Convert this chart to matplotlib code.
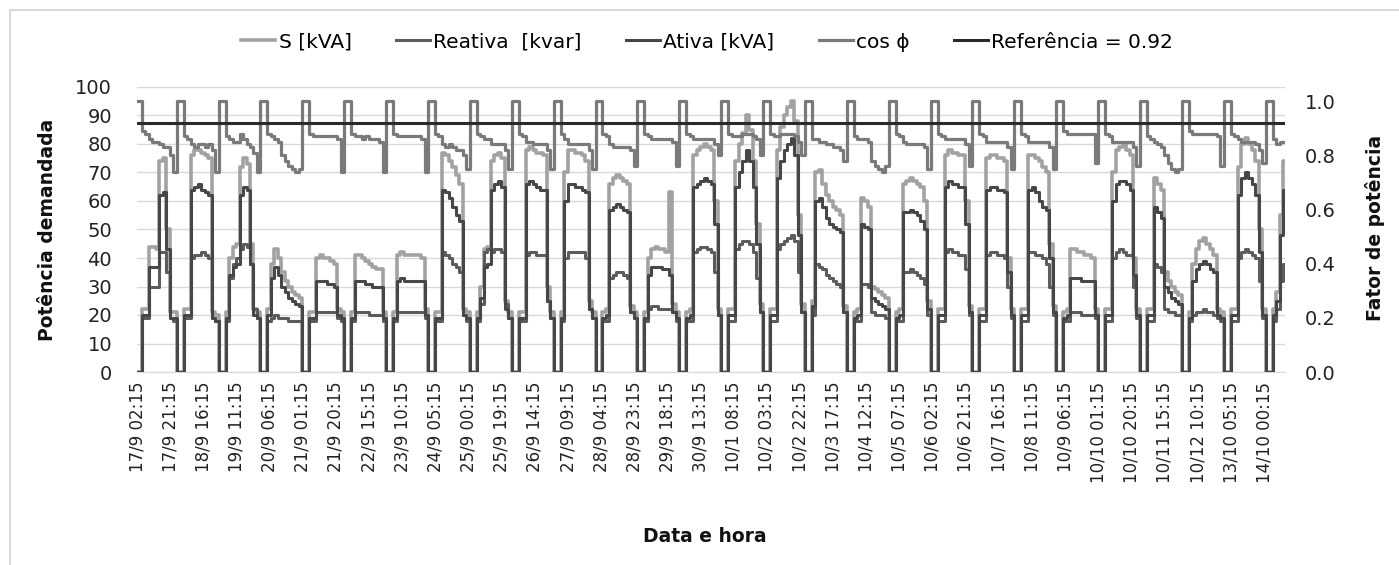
import numpy as np
import matplotlib
matplotlib.use("Agg")
import matplotlib.pyplot as plt
from matplotlib.patches import Rectangle

# ---------------- data (2-hour readings, starting 17/9 01:00) ----------------
tick_labels = ["17/9 02:15", "17/9 21:15", "18/9 16:15", "19/9 11:15", "20/9 06:15",
               "21/9 01:15", "21/9 20:15", "22/9 15:15", "23/9 10:15", "24/9 05:15",
               "25/9 00:15", "25/9 19:15", "26/9 14:15", "27/9 09:15", "28/9 04:15",
               "28/9 23:15", "29/9 18:15", "30/9 13:15", "10/1 08:15", "10/2 03:15",
               "10/2 22:15", "10/3 17:15", "10/4 12:15", "10/5 07:15", "10/6 02:15",
               "10/6 21:15", "10/7 16:15", "10/8 11:15", "10/9 06:15", "10/10 01:15",
               "10/10 20:15", "10/11 15:15", "10/12 10:15", "13/10 05:15", "14/10 00:15"]

S_kva = [
    0, 0, 22, 22, 44, 44, 43, 74, 75, 50, 21, 21,
    0, 0, 22, 22, 76, 78, 78, 77, 76, 75, 21, 20,
    0, 0, 21, 40, 44, 45, 72, 75, 73, 45, 22, 21,
    0, 0, 22, 38, 43, 40, 35, 32, 30, 28, 27, 26,
    0, 0, 21, 21, 40, 41, 40, 40, 39, 38, 22, 21,
    0, 0, 21, 41, 41, 40, 39, 38, 37, 36, 36, 21,
    0, 0, 21, 41, 42, 41, 41, 41, 41, 41, 40, 22,
    0, 0, 21, 21, 77, 76, 74, 72, 69, 66, 22, 21,
    0, 0, 21, 30, 43, 44, 74, 76, 77, 75, 25, 21,
    0, 0, 21, 21, 78, 79, 78, 77, 77, 76, 30, 21,
    0, 0, 21, 70, 78, 78, 77, 77, 76, 74, 25, 21,
    0, 0, 21, 22, 66, 68, 69, 68, 67, 66, 23, 21,
    0, 0, 21, 40, 43, 44, 43, 43, 42, 63, 24, 21,
    0, 0, 21, 22, 76, 78, 79, 80, 79, 78, 60, 22,
    0, 0, 22, 22, 74, 80, 84, 90, 85, 74, 52, 24,
    0, 0, 22, 22, 78, 86, 90, 93, 95, 88, 55, 24,
    0, 0, 25, 70, 71, 66, 62, 60, 58, 57, 55, 23,
    0, 0, 21, 22, 61, 60, 58, 30, 29, 28, 27, 26,
    0, 0, 21, 22, 66, 67, 68, 67, 66, 65, 60, 25,
    0, 0, 22, 22, 76, 78, 77, 77, 76, 76, 60, 23,
    0, 0, 22, 22, 75, 76, 76, 75, 75, 74, 40, 22,
    0, 0, 22, 22, 76, 76, 75, 74, 72, 70, 45, 23,
    0, 0, 21, 22, 43, 43, 42, 42, 41, 41, 40, 22,
    0, 0, 22, 22, 70, 78, 79, 80, 78, 76, 40, 22,
    0, 0, 22, 22, 68, 66, 64, 35, 32, 30, 28, 27,
    0, 0, 21, 38, 43, 46, 47, 45, 43, 41, 22, 21,
    0, 0, 22, 22, 72, 80, 82, 80, 78, 74, 50, 22,
    0, 0, 22, 28, 55, 74, 74]

Reativa_kvar = [
    0, 0, 19, 19, 30, 30, 30, 42, 42, 35, 19, 18,
    0, 0, 19, 19, 40, 41, 41, 42, 41, 40, 19, 18,
    0, 0, 18, 33, 38, 40, 43, 45, 44, 38, 22, 19,
    0, 0, 18, 19, 20, 19, 19, 19, 18, 18, 18, 18,
    0, 0, 18, 18, 21, 21, 21, 21, 21, 21, 19, 18,
    0, 0, 18, 21, 21, 21, 21, 20, 20, 20, 20, 18,
    0, 0, 18, 21, 21, 21, 21, 21, 21, 21, 21, 19,
    0, 0, 18, 18, 42, 41, 40, 38, 37, 35, 20, 18,
    0, 0, 18, 24, 42, 43, 42, 43, 43, 42, 24, 19,
    0, 0, 18, 18, 41, 42, 42, 41, 41, 41, 25, 19,
    0, 0, 18, 40, 42, 42, 42, 42, 42, 40, 22, 19,
    0, 0, 18, 18, 33, 34, 35, 35, 34, 33, 21, 19,
    0, 0, 18, 22, 23, 23, 22, 22, 22, 22, 21, 18,
    0, 0, 18, 18, 42, 43, 44, 44, 43, 42, 35, 20,
    0, 0, 18, 18, 43, 45, 46, 46, 45, 42, 33, 21,
    0, 0, 18, 18, 43, 45, 46, 47, 48, 46, 35, 21,
    0, 0, 20, 38, 37, 36, 34, 33, 32, 31, 30, 21,
    0, 0, 18, 18, 31, 31, 30, 21, 20, 20, 20, 19,
    0, 0, 18, 18, 35, 35, 36, 35, 34, 33, 31, 20,
    0, 0, 18, 18, 42, 43, 42, 42, 41, 41, 36, 20,
    0, 0, 18, 18, 41, 42, 42, 41, 41, 40, 30, 19,
    0, 0, 18, 18, 42, 42, 41, 41, 40, 38, 30, 20,
    0, 0, 18, 18, 21, 21, 21, 20, 20, 20, 20, 19,
    0, 0, 18, 18, 40, 42, 43, 42, 41, 41, 30, 19,
    0, 0, 18, 18, 38, 37, 35, 22, 21, 21, 20, 20,
    0, 0, 18, 20, 21, 21, 22, 21, 21, 20, 19, 18,
    0, 0, 18, 18, 40, 42, 43, 42, 41, 40, 32, 19,
    0, 0, 18, 22, 32, 38, 38]

Ativa_kw = [
    0, 0, 20, 20, 37, 37, 37, 62, 63, 43, 19, 19,
    0, 0, 20, 20, 64, 65, 66, 64, 63, 62, 19, 18,
    0, 0, 19, 34, 37, 38, 62, 65, 64, 38, 20, 19,
    0, 0, 20, 33, 37, 34, 30, 28, 26, 25, 24, 23,
    0, 0, 19, 19, 32, 32, 32, 31, 31, 30, 20, 19,
    0, 0, 19, 32, 32, 32, 31, 31, 30, 30, 30, 19,
    0, 0, 19, 32, 33, 32, 32, 32, 32, 32, 32, 20,
    0, 0, 19, 19, 64, 63, 61, 58, 55, 53, 20, 19,
    0, 0, 19, 26, 37, 38, 64, 66, 67, 65, 22, 19,
    0, 0, 19, 19, 66, 67, 66, 65, 64, 64, 25, 19,
    0, 0, 19, 60, 66, 66, 65, 65, 64, 63, 22, 19,
    0, 0, 19, 20, 57, 58, 59, 58, 57, 56, 21, 19,
    0, 0, 19, 34, 37, 37, 37, 36, 36, 34, 21, 19,
    0, 0, 19, 20, 65, 66, 67, 68, 67, 66, 52, 20,
    0, 0, 20, 20, 65, 70, 74, 78, 74, 65, 45, 21,
    0, 0, 20, 20, 68, 74, 78, 80, 82, 76, 48, 21,
    0, 0, 23, 60, 61, 58, 54, 52, 51, 50, 49, 21,
    0, 0, 19, 20, 52, 51, 50, 26, 25, 24, 23, 22,
    0, 0, 19, 20, 56, 56, 57, 56, 55, 53, 50, 22,
    0, 0, 20, 20, 65, 67, 66, 66, 65, 65, 52, 21,
    0, 0, 20, 20, 64, 65, 65, 64, 64, 63, 35, 20,
    0, 0, 20, 20, 64, 65, 63, 60, 58, 57, 40, 21,
    0, 0, 19, 20, 33, 33, 33, 32, 32, 32, 32, 20,
    0, 0, 20, 20, 60, 66, 67, 67, 66, 64, 34, 20,
    0, 0, 20, 20, 58, 56, 54, 30, 28, 26, 25, 24,
    0, 0, 19, 32, 36, 38, 39, 38, 36, 35, 20, 19,
    0, 0, 20, 20, 62, 68, 70, 68, 66, 62, 42, 20,
    0, 0, 20, 25, 48, 64, 64]

cos_phi = [
    1, 1, .89, .88, .86, .85, .85, .84, .83, .83, .80, .74,
    1, 1, .87, .86, .84, .83, .84, .84, .83, .84, .82, .74,
    1, 1, .87, .86, .85, .85, .88, .86, .84, .83, .81, .74,
    1, 1, .88, .87, .86, .85, .80, .78, .76, .75, .74, .75,
    1, 1, .88, .87, .87, .87, .87, .87, .87, .87, .86, .74,
    1, 1, .88, .87, .87, .86, .87, .86, .86, .86, .85, .74,
    1, 1, .88, .87, .87, .87, .87, .87, .87, .87, .86, .74,
    1, 1, .88, .87, .84, .83, .84, .83, .82, .82, .80, .75,
    1, 1, .88, .87, .86, .86, .84, .84, .84, .84, .82, .75,
    1, 1, .88, .87, .85, .85, .84, .84, .84, .84, .82, .75,
    1, 1, .88, .86, .84, .84, .84, .84, .84, .84, .82, .75,
    1, 1, .88, .87, .84, .83, .83, .83, .83, .83, .82, .76,
    1, 1, .88, .87, .86, .86, .86, .86, .86, .86, .85, .76,
    1, 1, .88, .87, .86, .86, .86, .86, .86, .86, .84, .80,
    1, 1, .88, .87, .87, .87, .88, .88, .88, .87, .86, .80,
    1, 1, .88, .87, .87, .88, .88, .88, .88, .87, .85, .80,
    1, 1, .86, .86, .85, .85, .84, .84, .83, .83, .82, .78,
    1, 1, .87, .86, .86, .86, .85, .78, .76, .75, .74, .76,
    1, 1, .88, .87, .85, .84, .84, .84, .84, .84, .83, .75,
    1, 1, .88, .87, .86, .86, .86, .86, .86, .86, .84, .76,
    1, 1, .88, .87, .85, .85, .85, .85, .85, .85, .83, .75,
    1, 1, .88, .87, .85, .85, .85, .85, .85, .85, .83, .75,
    1, 1, .89, .88, .88, .88, .88, .88, .88, .88, .88, .77,
    1, 1, .88, .87, .85, .85, .85, .85, .85, .85, .83, .76,
    1, 1, .87, .86, .85, .84, .83, .80, .77, .75, .74, .75,
    1, 1, .89, .88, .88, .88, .88, .88, .88, .88, .87, .76,
    1, 1, .88, .87, .86, .85, .85, .85, .85, .84, .82, .77,
    1, 1, .86, .84, .85, .85, .85]

referencia = 0.92

# reading times: every 2 h from 17/9 01:00 (hours since 17/9 00:00)
hours = 1 + 2 * np.arange(len(S_kva))
tick_pos = 2.25 + 19 * np.arange(len(tick_labels))   # first label 17/9 02:15, step 19 h

# ---------------- figure ----------------
W, H = 1399, 565
fig = plt.figure(figsize=(W / 100, H / 100), dpi=100)
fig.patches.append(Rectangle((10 / W, -0.01), 1.0, 1 - 10 / H + 0.01, transform=fig.transFigure,
                             fill=False, edgecolor="#d0d0d0", linewidth=1.2))

ax = fig.add_axes([137 / W, (H - 372) / H, (1285 - 137) / W, (372 - 87) / H])
ax2 = ax.twinx()

c_S, c_R, c_A, c_cos, c_ref = "#a2a2a2", "#5c5c5c", "#474747", "#7a7a7a", "#2a2a2a"
lS, = ax.step(hours, S_kva, where="post", color=c_S, lw=2.6, label="S [kVA]", zorder=3)
lR, = ax.step(hours, Reativa_kvar, where="post", color=c_R, lw=2.2, label="Reativa  [kvar]", zorder=3)
lA, = ax.step(hours, Ativa_kw, where="post", color=c_A, lw=2.2, label="Ativa [kVA]", zorder=3)
lC, = ax2.step(hours, cos_phi, where="post", color=c_cos, lw=2.3, label="cos ϕ", zorder=3)
lRef = ax2.axhline(referencia, color=c_ref, lw=2.2, label="Referência = 0.92", zorder=4)

ax.set_xlim(2.25, 660.1)
ax.set_ylim(0, 100)
ax2.set_ylim(0, 1.052)
ax.set_yticks(np.arange(0, 101, 10))
ax2.set_yticks(np.arange(0, 1.01, 0.2))
ax2.set_yticklabels([f"{v:.1f}" for v in np.arange(0, 1.01, 0.2)])
ax.set_xticks(tick_pos)
ax.set_xticklabels(tick_labels, rotation=90, fontsize=12, family="DejaVu Sans", color="#222222")

ax.yaxis.grid(True, color="#d9d9d9", lw=1.0)
ax.set_axisbelow(True)
for a in (ax, ax2):
    for s in a.spines.values():
        s.set_visible(False)
    a.tick_params(length=0)
ax.spines["bottom"].set_visible(True)
ax.spines["bottom"].set_color("#d9d9d9")
ax.tick_params(axis="y", labelsize=14, pad=18, labelcolor="#222222")
ax.tick_params(axis="x", pad=7)
ax2.tick_params(axis="y", labelsize=14, pad=14.5, labelcolor="#222222")

fig.text(48 / W, 1 - 230 / H, "Potência demandada", rotation=90, ha="center", va="center",
         fontsize=13.5, fontweight="bold", color="#111111")
fig.text(1375 / W, 1 - 228 / H, "Fator de potência", rotation=90, ha="center", va="center",
         fontsize=13.5, fontweight="bold", color="#111111")
fig.text(705 / W, 1 - 537 / H, "Data e hora", ha="center", va="center",
         fontsize=13.5, fontweight="bold", color="#111111")

fig.legend(handles=[lS, lR, lA, lC, lRef], loc="center", bbox_to_anchor=(707 / W, 1 - 42 / H),
           ncol=5, frameon=False, handlelength=1.7, handletextpad=0.15,
           columnspacing=2.2, prop={"family": "DejaVu Sans", "size": 14.5})

fig.savefig("out.png", dpi=100)
